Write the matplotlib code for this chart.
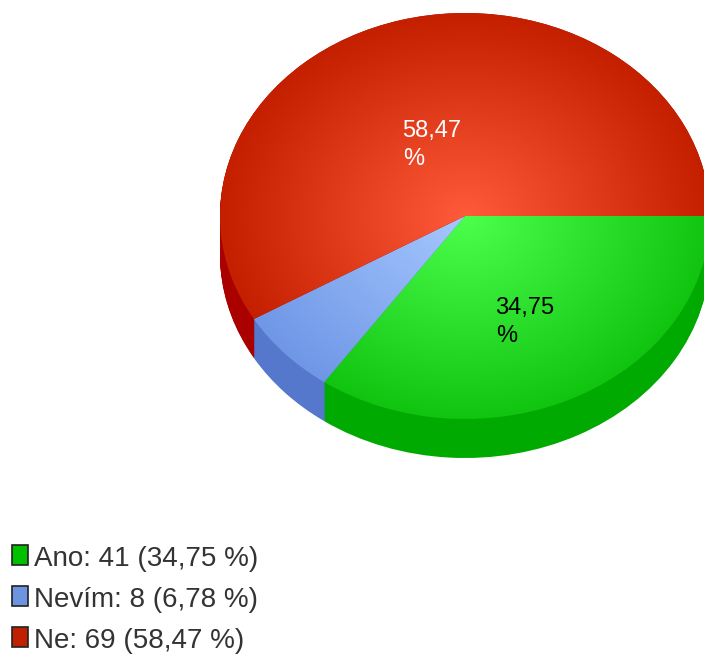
import numpy as np
import matplotlib
matplotlib.use('Agg')
import matplotlib.pyplot as plt
from matplotlib.colors import LinearSegmentedColormap
from matplotlib.patches import Rectangle, Wedge
from matplotlib.transforms import Affine2D

labels = ['Ano', 'Nevím', 'Ne']
counts = [41, 8, 69]
percents = ['34,75', '6,78', '58,47']
top_inner = ['#4dff4d', '#a6c8ff', '#ff5a3a']
top_outer = ['#10c410', '#6f97e6', '#c42000']
side_cols = ['#00aa00', '#5577cc', '#aa0000']
legend_cols = ['#00c000', '#6d94e0', '#c02000']

W, H = 704, 655
fig = plt.figure(figsize=(W / 100, H / 100), dpi=100)
ax = fig.add_axes([0, 0, 1, 1])
ax.axis('off')
ax.set_xlim(0, W)
ax.set_ylim(H, 0)

cx, cy = 465, 216
rx, ry = 245, 203
depth = 39


def draw_pie(offset, colors):
    # unit circle squashed into the ellipse
    t = Affine2D().scale(rx, -ry).translate(cx, cy + offset) + ax.transData
    start = 0
    out = []
    total = sum(counts)
    for n, c in zip(counts, colors):
        sweep = 360 * n / total
        w = Wedge((0, 0), 1, start - sweep, start, fc=c, ec='none', transform=t)
        ax.add_patch(w)
        out.append(w)
        start -= sweep
    return out


# side wall: dark pie stacked down
for off in range(depth, 0, -1):
    draw_pie(off, side_cols)

# top face with radial gradient clipped to each wedge
wedges = draw_pie(0, side_cols)
yy, xx = np.mgrid[0:H, 0:W]
dist = np.hypot((xx - cx) / rx, (yy - cy) / ry)
for w, c0, c1 in zip(wedges, top_inner, top_outer):
    cmap = LinearSegmentedColormap.from_list('g', [c0, c1])
    im = ax.imshow(dist, cmap=cmap, vmin=0, vmax=1, extent=(0, W, H, 0), aspect='auto', zorder=2)
    im.set_clip_path(w)
ax.set_xlim(0, W)
ax.set_ylim(H, 0)

# percent labels inside slices, wrapped like the original
for p, col, x, y in [(percents[0], 'black', 495, 314), (percents[2], 'white', 402, 137)]:
    ax.text(x, y, p, color=col, fontsize=17, family='Liberation Sans', va='baseline', zorder=3)
    ax.text(x + 1, y + 28, '%', color=col, fontsize=17, family='Liberation Sans', va='baseline', zorder=3)

# legend
leg_y = [555, 596, 637]
for name, n, p, col, y in zip(labels, counts, percents, legend_cols, leg_y):
    ax.add_patch(Rectangle((12, y - 10), 16, 20, fc=col, ec='#222222', lw=1.2, zorder=3))
    ax.text(34, y + 11, f'{name}: {n} ({p} %)', fontsize=20, family='Liberation Sans',
            color='#333333', va='baseline', ha='left', zorder=3)

fig.savefig('out.png', dpi=100)
